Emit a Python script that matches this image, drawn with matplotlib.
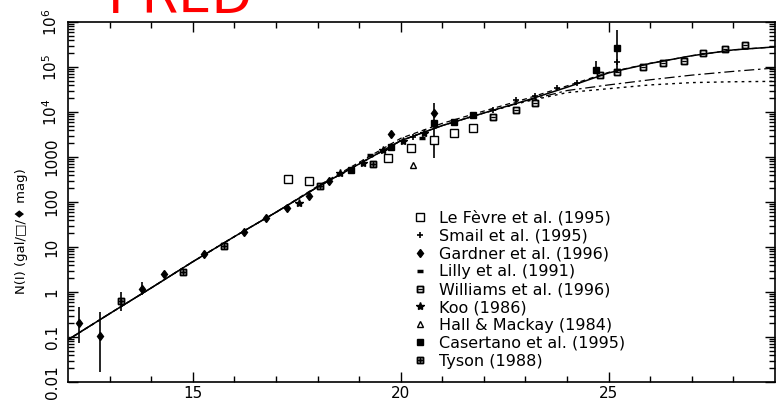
import matplotlib
matplotlib.use("Agg")
import matplotlib.pyplot as plt
from matplotlib.ticker import FixedLocator, LogLocator, NullFormatter

# ---- data (I magnitude, N(I) per sq. deg per mag) ----
lefevre_mag = [17.28, 17.79, 19.69, 20.24, 20.79, 21.27, 21.75]
lefevre_n   = [325, 295, 950, 1600, 2400, 3400, 4400]

smail_mag = [20.29, 22.21, 22.77, 23.24, 23.77, 24.23, 25.19]
smail_n   = [2800, 11000, 18600, 23000, 34000, 44000, 130000]

gardner_mag = [12.26, 12.76, 13.77, 14.30, 15.26, 16.23, 16.75, 17.26, 17.79, 18.27, 19.76, 20.79]
gardner_n   = [0.20, 0.105, 1.17, 2.5, 6.9, 21.5, 44, 74, 135, 295, 3200, 9500]

lilly_mag = [19.25, 20.5]
lilly_n   = [1100, 2600]

williams_mag = [22.21, 22.77, 23.24, 24.8, 25.19, 25.82, 26.3, 26.8, 27.28, 27.79, 28.29]
williams_n   = [7800, 11000, 15800, 66000, 77000, 100000, 123000, 135000, 200000, 250000, 310000]

koo_mag = [17.55, 18.53, 19.09, 19.57, 20.05, 20.55]
koo_n   = [95, 440, 740, 1450, 2300, 3400]

hall_mag = [20.29]
hall_n   = [660]

casertano_mag = [18.80, 19.76, 20.79, 21.27, 21.75, 24.69, 25.19]
casertano_n   = [515, 1660, 5700, 6000, 8500, 86000, 260000]

tyson_mag = [13.27, 14.76, 15.75, 18.05, 19.33]
tyson_n   = [0.63, 2.78, 10.5, 230, 690]

# error bars
err_mag = [12.26, 12.76, 13.27, 13.77, 20.79, 24.69, 25.19]
err_lo  = [0.074, 0.017, 0.38, 0.85, 950, 70000, 74000]
err_hi  = [0.47, 0.36, 1.0, 1.66, 16000, 135000, 660000]

# model curves
model_mag     = [12, 13, 14, 15, 16, 17, 18, 19, 20, 21, 22, 23, 24, 25, 26, 27, 28, 29]
model_solid   = [0.087, 0.33, 1.23, 4.7, 17, 59, 215, 700, 2300, 5000, 9500, 17800, 35500, 74000, 120000, 178000, 240000, 280000]
model_dashed  = [0.087, 0.33, 1.23, 4.7, 17, 59, 225, 760, 2600, 5600, 10500, 19500, 38000, 76000, 121000, 178000, 240000, 280000]
model_dashdot = [0.087, 0.33, 1.23, 4.7, 17, 59, 215, 700, 2300, 5000, 9500, 17500, 30000, 40000, 52000, 66000, 80000, 95000]
model_dotted  = [0.087, 0.33, 1.23, 4.7, 17, 59, 215, 700, 2300, 5000, 9500, 17000, 27000, 33000, 40000, 45000, 47000, 48000]

ytick_vals   = [0.01, 0.1, 1, 10, 100, 1000, 1e4, 1e5, 1e6]
ytick_labels = ["0.01", "0.1", "1", "10", "100", "1000", r"$10^4$", r"$10^5$", r"$10^6$"]

fig = plt.figure(figsize=(7.79, 4.04), dpi=100)
ax = fig.add_axes([68 / 779, 1 - 382 / 404, 707 / 779, 360 / 404])

ax.plot(model_mag, model_solid, color="black", lw=1.1)
ax.plot(model_mag, model_dashed, color="black", lw=0.9, ls=(0, (4, 3)))
ax.plot(model_mag, model_dashdot, color="black", lw=0.9, ls=(0, (8, 3, 2, 3)))
ax.plot(model_mag, model_dotted, color="black", lw=1.0, ls=(0, (2, 3)))

ax.vlines(err_mag, err_lo, err_hi, color="black", lw=1.2)

ms = 4.5
ax.plot(lefevre_mag, lefevre_n, ls="none", marker="s", mfc="white", mec="black", mew=1.0, ms=ms + 1,
        label="Le Fèvre et al. (1995)")
ax.plot(smail_mag, smail_n, ls="none", marker="+", color="black", mew=1.2, ms=ms,
        label="Smail et al. (1995)")
ax.plot(gardner_mag, gardner_n, ls="none", marker="d", color="black", ms=ms,
        label="Gardner et al. (1996)")
ax.plot(lilly_mag, lilly_n, ls="none", marker="_", color="black", mew=2.5, ms=ms,
        label="Lilly et al. (1991)")
ax.plot(williams_mag, williams_n, ls="none", marker=r"$\boxminus$", color="black", ms=ms + 0.5,
        label="Williams et al. (1996)")
ax.plot(koo_mag, koo_n, ls="none", marker="*", color="black", ms=ms + 1.5,
        label="Koo (1986)")
ax.plot(hall_mag, hall_n, ls="none", marker="^", mfc="white", mec="black", mew=1.0, ms=ms,
        label="Hall & Mackay (1984)")
ax.plot(casertano_mag, casertano_n, ls="none", marker="s", color="black", ms=ms,
        label="Casertano et al. (1995)")
ax.plot(tyson_mag, tyson_n, ls="none", marker=r"$\boxplus$", color="black", ms=ms + 0.5,
        label="Tyson (1988)")

ax.set_yscale("log")
ax.set_xlim(12, 29)
ax.set_ylim(0.01, 1e6)

ax.xaxis.set_major_locator(FixedLocator([15, 20, 25]))
ax.xaxis.set_minor_locator(FixedLocator(list(range(13, 29))))
ax.yaxis.set_major_locator(FixedLocator(ytick_vals))
ax.set_yticklabels(ytick_labels, rotation=90, va="center")
ax.yaxis.set_minor_locator(LogLocator(base=10, subs=range(2, 10), numticks=20))
ax.yaxis.set_minor_formatter(NullFormatter())

ax.tick_params(which="both", direction="in", top=True, right=True, width=1.0)
ax.tick_params(which="major", length=7)
ax.tick_params(which="minor", length=4)
ax.tick_params(axis="y", pad=6, labelsize=11)
ax.tick_params(axis="x", pad=3, labelsize=11)
for s in ax.spines.values():
    s.set_linewidth(1.2)

fig.text(22 / 779, 1 - 231 / 404, "N(I) (gal/□/♦ mag)", rotation=90, ha="center", va="center", fontsize=9.5)

ax.legend(loc="upper left", bbox_to_anchor=(0.48, 0.495), frameon=False, fontsize=11.5,
          handlelength=0.8, handletextpad=0.8, labelspacing=0.18, borderaxespad=0)

fig.text(108 / 779, 1 - 13 / 404, "I-RED", color="red", fontsize=38, ha="left", va="baseline")

fig.savefig("out.png", dpi=100)
